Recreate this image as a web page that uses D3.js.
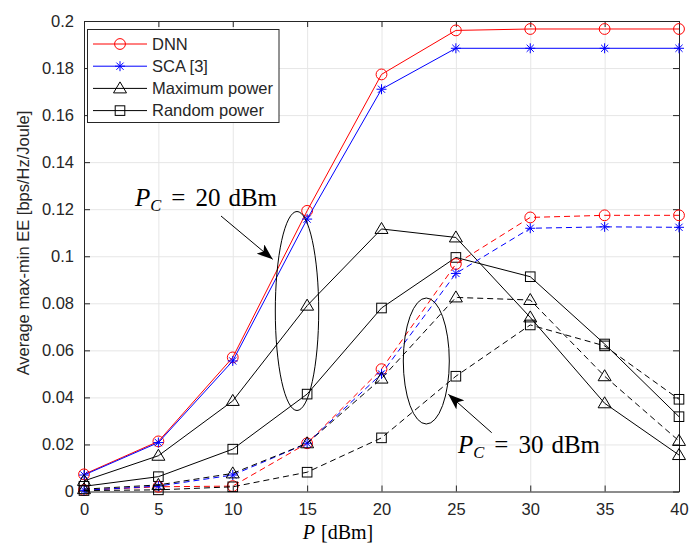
<!DOCTYPE html>
<html lang="en">
<head>
    <meta charset="UTF-8">
    <title>EE vs P</title>
    <script src="https://cdn.jsdelivr.net/npm/d3@7"></script>
    <style>
        html, body {
            margin: 0;
            padding: 0;
            background: #ffffff;
            overflow: hidden;
        }
        text {
            font-family: "Liberation Sans", Arial, sans-serif;
            fill: #262626;
        }
        .tex {
            font-family: "Liberation Serif", "DejaVu Serif", serif;
            fill: #000000;
        }
    </style>
</head>
<body>
</body>
<script>
    // data
    const P = [0, 5, 10, 15, 20, 25, 30, 35, 40];

    // P_C = 20 dBm (solid)
    const dnn20 = [0.0073, 0.0213, 0.0570, 0.1193, 0.1773, 0.1960, 0.1966, 0.1966, 0.1966];
    const sca20 = [0.0070, 0.0208, 0.0555, 0.1158, 0.1710, 0.1884, 0.1884, 0.1884, 0.1884];
    const max20 = [0.0045, 0.0152, 0.0385, 0.0790, 0.1116, 0.1080, 0.0740, 0.0375, 0.0155];
    const rnd20 = [0.0022, 0.0063, 0.0180, 0.0414, 0.0780, 0.0995, 0.0913, 0.0627, 0.0318];

    // P_C = 30 dBm (dashed)
    const dnn30 = [0.0006, 0.0020, 0.0023, 0.0205, 0.0520, 0.0967, 0.1165, 0.1174, 0.1174];
    const sca30 = [0.0005, 0.0023, 0.0070, 0.0205, 0.0500, 0.0927, 0.1119, 0.1125, 0.1123];
    const max30 = [0.0010, 0.0028, 0.0077, 0.0205, 0.0480, 0.0825, 0.0814, 0.0490, 0.0215];
    const rnd30 = [0.0004, 0.0007, 0.0020, 0.0082, 0.0228, 0.0490, 0.0708, 0.0619, 0.0392];

    const legendNames = ['DNN', 'SCA [3]', 'Maximum power', 'Random power'];
    const xTicks = [0, 5, 10, 15, 20, 25, 30, 35, 40];
    const yTicks = [0, 0.02, 0.04, 0.06, 0.08, 0.1, 0.12, 0.14, 0.16, 0.18, 0.2];

    let width = 689;
    let height = 544;
    let margin = {left: 84, right: 10, top: 21, bottom: 52.5};

    let svg = d3.select('body')
        .append('svg')
        .attr('width', width)
        .attr('height', height);

    let x = d3.scaleLinear().domain([0, 40]).range([margin.left, width - margin.right]);
    let y = d3.scaleLinear().domain([0, 0.2]).range([height - margin.bottom, margin.top]);

    let fmt = d => String(+d.toFixed(2));

    // 网格
    svg.append('g')
        .attr('transform', `translate(0,${y(0)})`)
        .call(d3.axisBottom(x).tickValues(xTicks).tickSize(-(y(0) - y(0.2))).tickFormat(''))
        .call(g => g.select('.domain').remove())
        .call(g => g.selectAll('line').attr('stroke', '#e6e6e6'));
    svg.append('g')
        .attr('transform', `translate(${x(0)},0)`)
        .call(d3.axisLeft(y).tickValues(yTicks).tickSize(-(x(40) - x(0))).tickFormat(''))
        .call(g => g.select('.domain').remove())
        .call(g => g.selectAll('line').attr('stroke', '#e6e6e6'));

    // 坐标轴 (刻度朝内)
    function styleAxis(g) {
        g.select('.domain').attr('stroke', '#262626');
        g.selectAll('.tick line').attr('stroke', '#262626');
        g.selectAll('.tick text')
            .style('font-family', '"Liberation Sans", Arial, sans-serif')
            .style('font-size', '16.5px')
            .attr('fill', '#262626');
    }
    svg.append('g')
        .attr('transform', `translate(0,${y(0)})`)
        .call(d3.axisBottom(x).tickValues(xTicks).tickSizeInner(-6).tickSizeOuter(0).tickPadding(12))
        .call(styleAxis);
    svg.append('g')
        .attr('transform', `translate(0,${y(0.2)})`)
        .call(d3.axisTop(x).tickValues(xTicks).tickSizeInner(-6).tickSizeOuter(0).tickFormat(''))
        .call(styleAxis);
    svg.append('g')
        .attr('transform', `translate(${x(0)},0)`)
        .call(d3.axisLeft(y).tickValues(yTicks).tickSizeInner(-6).tickSizeOuter(0).tickPadding(10).tickFormat(fmt))
        .call(styleAxis);
    svg.append('g')
        .attr('transform', `translate(${x(40)},0)`)
        .call(d3.axisRight(y).tickValues(yTicks).tickSizeInner(-6).tickSizeOuter(0).tickFormat(''))
        .call(styleAxis);

    // 轴标题
    svg.append('text')
        .attr('transform', `translate(29,243) rotate(-90)`)
        .attr('text-anchor', 'middle')
        .style('font-size', '16.5px')
        .text('Average max-min EE [bps/Hz/Joule]');

    let xl = svg.append('text')
        .attr('class', 'tex')
        .attr('x', 338)
        .attr('y', 539)
        .attr('text-anchor', 'middle')
        .style('font-size', '20px');
    xl.append('tspan').style('font-style', 'italic').text('P');
    xl.append('tspan').attr('dx', 6).text('[dBm]');

    // 标记
    function drawMarker(g, type, color) {
        if (type === 'circle') {
            g.append('circle').attr('r', 5.4).attr('fill', 'none').attr('stroke', color);
        } else if (type === 'star') {
            let s = 5, d = 3.6;
            g.append('path')
                .attr('d', `M${-s},0H${s}M0,${-s}V${s}M${-d},${-d}L${d},${d}M${-d},${d}L${d},${-d}`)
                .attr('stroke', color).attr('fill', 'none');
        } else if (type === 'tri') {
            g.append('path')
                .attr('d', 'M0,-6.5L6.5,4.5L-6.5,4.5Z')
                .attr('stroke', color).attr('fill', 'none');
        } else if (type === 'square') {
            g.append('rect')
                .attr('x', -4.8).attr('y', -4.8).attr('width', 9.6).attr('height', 9.6)
                .attr('stroke', color).attr('fill', 'none');
        }
    }

    let series = [
        {values: dnn20, color: '#ff0000', marker: 'circle', dash: null},
        {values: sca20, color: '#0000ff', marker: 'star', dash: null},
        {values: max20, color: '#000000', marker: 'tri', dash: null},
        {values: rnd20, color: '#000000', marker: 'square', dash: null},
        {values: dnn30, color: '#ff0000', marker: 'circle', dash: '6,4'},
        {values: sca30, color: '#0000ff', marker: 'star', dash: '6,4'},
        {values: max30, color: '#000000', marker: 'tri', dash: '6,4'},
        {values: rnd30, color: '#000000', marker: 'square', dash: '6,4'}
    ];

    let line = d3.line().x((d, i) => x(P[i])).y(d => y(d));

    let plot = svg.append('g').classed('series', true);
    series.forEach(s => {
        let g = plot.append('g');
        g.append('path')
            .attr('d', line(s.values))
            .attr('fill', 'none')
            .attr('stroke', s.color)
            .attr('stroke-width', 1)
            .attr('stroke-dasharray', s.dash);
        g.selectAll('.m')
            .data(s.values)
            .enter().append('g')
            .attr('transform', (d, i) => `translate(${x(P[i])},${y(d)})`)
            .each(function () {
                drawMarker(d3.select(this), s.marker, s.color);
            });
    });

    // 图例
    let legend = svg.append('g');
    legend.append('rect')
        .attr('x', 87.5).attr('y', 29.5).attr('width', 191.5).attr('height', 93)
        .attr('fill', '#ffffff').attr('stroke', '#262626');
    legendNames.forEach((name, i) => {
        let s = series[i];
        let ly = 44 + i * 22.2;
        legend.append('line')
            .attr('x1', 93).attr('x2', 147).attr('y1', ly).attr('y2', ly)
            .attr('stroke', s.color);
        let mg = legend.append('g').attr('transform', `translate(120,${ly})`);
        drawMarker(mg, s.marker, s.color);
        legend.append('text')
            .attr('x', 152).attr('y', ly + 5.8)
            .style('font-size', '16.5px')
            .attr('fill', '#000000')
            .text(name);
    });

    // 注释
    let defs = svg.append('defs');
    defs.append('marker')
        .attr('id', 'head')
        .attr('viewBox', '0 0 16 12')
        .attr('refX', 16).attr('refY', 6)
        .attr('markerWidth', 16).attr('markerHeight', 12)
        .attr('markerUnits', 'userSpaceOnUse')
        .attr('orient', 'auto')
        .append('path')
        .attr('d', 'M0,0L16,6L0,12L4,6Z')
        .attr('fill', '#000000');

    function annot(tx, ty, label, ax1, ay1, ax2, ay2, ecx, ecy, erx, ery) {
        svg.append('ellipse')
            .attr('cx', ecx).attr('cy', ecy).attr('rx', erx).attr('ry', ery)
            .attr('fill', 'none').attr('stroke', '#000000');
        svg.append('line')
            .attr('x1', ax1).attr('y1', ay1).attr('x2', ax2).attr('y2', ay2)
            .attr('stroke', '#000000')
            .attr('marker-end', 'url(#head)');
        let t = svg.append('text')
            .attr('class', 'tex')
            .attr('x', tx).attr('y', ty)
            .style('font-size', '25px');
        t.append('tspan').style('font-style', 'italic').text('P');
        t.append('tspan').style('font-style', 'italic').style('font-size', '16.5px').attr('dy', 5).text('C');
        t.append('tspan').attr('dy', -5).attr('dx', 10).text('=');
        t.append('tspan').attr('dx', 10).text(label);
        t.append('tspan').attr('dx', 8).text('dBm');
    }

    annot(135, 206, '20', 221, 216, 272.7, 259.3, 297, 311, 21.7, 99.5);
    annot(458, 453, '30', 491.7, 432.7, 448.3, 394.3, 426.3, 361, 23, 63);
</script>
</html>
